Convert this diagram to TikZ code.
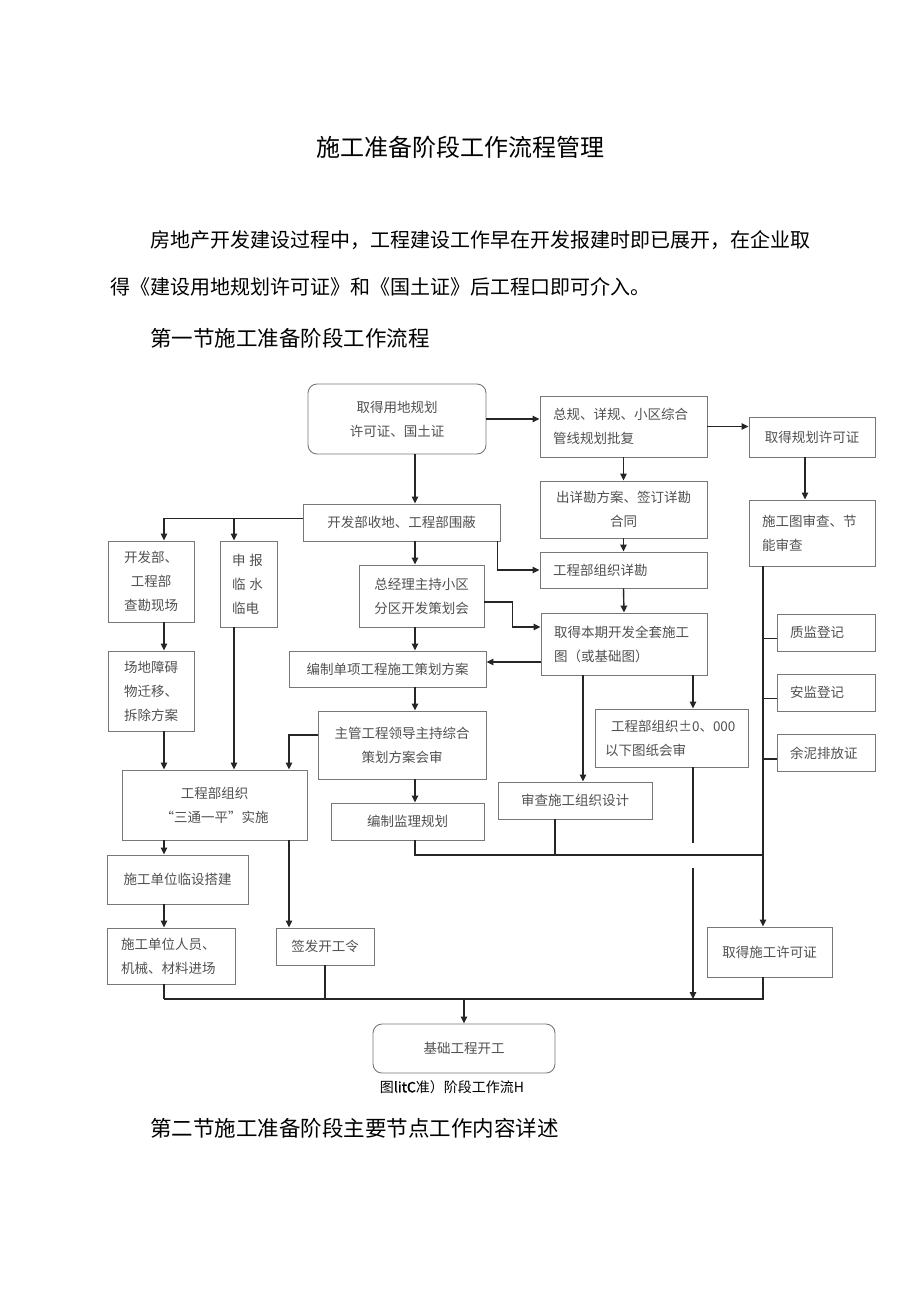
\documentclass[tikz,border=0pt]{standalone}
\usepackage{fontspec}
\setmainfont{Noto Sans CJK SC}[AutoFakeBold=1.5]
\usetikzlibrary{arrows.meta,positioning}
\definecolor{LineGray}{HTML}{777777}
\definecolor{TextGray}{HTML}{505050}

\begin{document}
\begin{tikzpicture}[x=1pt,y=-1pt,
    box/.style={draw=LineGray,line width=0.9pt,text=TextGray,inner sep=0pt,align=center,
      font=\fontsize{13.5}{24}\selectfont},
    rbox/.style={box,rounded corners=9pt},
    ln/.style={draw=black!85,line width=1.4pt},
    arr/.style={ln,-{Triangle[length=7pt,width=6.5pt]}},
    plain/.style={inner sep=0pt,text=black}]
  \useasboundingbox (0,0) rectangle (920,1301);

  % page text
  \node[plain,font=\fontsize{24}{24}\selectfont] (title) at (460,147) {施工准备阶段工作流程管理};
  \node[plain,anchor=west,font=\fontsize{20}{20}\selectfont] (para1) at (150,240)
    {房地产开发建设过程中，工程建设工作早在开发报建时即已展开，在企业取};
  \node[plain,anchor=west,font=\fontsize{20}{20}\selectfont] (para2) at (110,287)
    {得《建设用地规划许可证》和《国土证》后工程口即可介入。};
  \node[plain,anchor=west,font=\fontsize{21.5}{22}\selectfont] (sec1) at (150,338) {第一节施工准备阶段工作流程};
  \node[plain,font=\fontsize{14}{14}\selectfont] (cap) at (452,1087) {图\textbf{litC}准）阶段工作流H};
  \node[plain,anchor=west,font=\fontsize{21.5}{22}\selectfont] (sec2) at (150,1128) {第二节施工准备阶段主要节点工作内容详述};

  % columns and buses
  \coordinate (spine) at (415,0);
  \coordinate (colL) at (164,0);
  \coordinate (colD) at (234,0);
  \coordinate (colN) at (289,0);
  \coordinate (colY) at (555,0);
  \coordinate (colJY) at (583,0);
  \coordinate (colX) at (693,0);
  \coordinate (colU) at (763,0);
  \coordinate (busA) at (0,855);
  \coordinate (busB) at (0,999);

  % boxes
  \node[rbox,minimum width=178,minimum height=70] (A) at (397,419) {取得用地规划\\许可证、国土证};
  \node[box,minimum width=167,minimum height=61,text width=141,align=left] (F) at (623.5,426.5)
    {总规、详规、小区综合\\管线规划批复};
  \node[box,minimum width=126,minimum height=40] (G) at (812,437) {取得规划许可证};
  \node[box,minimum width=197,minimum height=37] (B) at (401.5,522.5) {开发部收地、工程部围蔽};
  \node[box,minimum width=86,minimum height=81] (C) at (151,581.5) {开发部、\\工程部\\查勘现场};
  \node[box,minimum width=57,minimum height=86,text width=34,align=left] (D) at (249,584)
    {申\hspace{4pt}报\\临\hspace{4pt}水\\临电};
  \node[box,minimum width=167,minimum height=57] (H) at (623.5,509.5) {出详勘方案、签订详勘\\合同};
  \node[box,minimum width=126,minimum height=66,text width=100,align=left] (U) at (812,533)
    {施工图审查、节\\能审查};
  \node[box,minimum width=125,minimum height=62] (E) at (421.5,596) {总经理主持小区\\分区开发策划会};
  \node[box,minimum width=167,minimum height=36,text width=141,align=left] (I) at (623.5,570) {工程部组织详勘};
  \node[box,minimum width=166,minimum height=62,text width=140,align=left] (J) at (624,644)
    {取得本期开发全套施工\\图（或基础图）};
  \node[box,minimum width=197,minimum height=36] (K) at (387.5,669) {编制单项工程施工策划方案};
  \node[box,minimum width=86,minimum height=80] (P) at (151,691) {场地障碍\\物迁移、\\拆除方案};
  \node[box,minimum width=153,minimum height=58,text width=133,align=left] (X) at (671.5,738)
    {\hspace{6pt}工程部组织±0、000\\以下图纸会审};
  \node[box,minimum width=168,minimum height=68] (L) at (402,745) {主管工程领导主持综合\\策划方案会审};
  \node[box,minimum width=185,minimum height=70] (N) at (214.5,805) {工程部组织\\“三通一平”实施};
  \node[box,minimum width=154,minimum height=37] (Y) at (575,800.5) {审查施工组织设计};
  \node[box,minimum width=153,minimum height=37] (M) at (407.5,821.5) {编制监理规划};
  \node[box,minimum width=141,minimum height=49] (Q) at (177.5,879.5) {施工单位临设搭建};
  \node[box,minimum width=128,minimum height=56,text width=100,align=left] (R) at (171,956)
    {施工单位人员、\\机械、材料进场};
  \node[box,minimum width=98,minimum height=37] (S) at (325,946.5) {签发开工令};
  \node[box,minimum width=125,minimum height=50] (V) at (769.5,952) {取得施工许可证};
  \node[rbox,minimum width=182,minimum height=49] (T) at (464,1048.5) {基础工程开工};

  % registrations hanging off the right line
  \foreach \n/\y/\txt in {W1/632.5/质监登记,W2/692.5/安监登记,W3/753/余泥排放证}{
    \node[box,minimum width=98,minimum height=37,text width=72,align=left] (\n) at (826,\y) {\txt};
    \draw[ln] ([yshift=-6]\n.west) -- ([yshift=-6]\n.west -| colU);
  }

  % helper points
  \coordinate (bL) at ([yshift=4]B.west);
  \coordinate (kE) at ([yshift=7]K.east);
  \coordinate (gapT) at (693,843);
  \coordinate (gapB) at (693,868);

  % connectors
  \draw[arr] (A.south -| spine) -- (B.north -| spine);
  \draw[arr] (A.east) -- (A.east -| F.west);
  \draw[arr] (F.east) -- (F.east -| G.west);
  \draw[arr] ([xshift=-7]G.south) -- ([xshift=-7]U.north);
  \draw[arr] (F.south) -- (H.north);
  \draw[arr] (H.south) -- (I.north);
  \draw[arr] (I.south) -- (J.north);
  \draw[arr] (bL) -| (C.north -| colL);
  \draw[arr] (bL -| colD) -- (D.north -| colD);
  \draw[arr] (B.south -| spine) -- (E.north -| spine);
  \draw[arr] ([xshift=-3]B.south east) |- (I.west);
  \draw[arr] ([yshift=-6]E.east) -- ++(28,0) |- ([yshift=17]J.west);
  \draw[arr] (E.south -| spine) -- (K.north -| spine);
  \draw[arr] (J.west |- kE) -- (kE);
  \draw[arr] (K.south -| spine) -- (L.north -| spine);
  \draw[arr] (L.south -| spine) -- (M.north -| spine);
  \draw[arr] ([yshift=10]L.west) -| (N.north -| colN);
  \draw[arr] (C.south -| colL) -- (P.north -| colL);
  \draw[arr] (P.south -| colL) -- (N.north -| colL);
  \draw[arr] (D.south -| colD) -- (N.north -| colD);
  \draw[arr] (N.south -| colL) -- (Q.north -| colL);
  \draw[arr] (Q.south -| colL) -- (R.north -| colL);
  \draw[arr] (N.south -| colN) -- (S.north -| colN);
  \draw[arr] (J.south -| colJY) -- (Y.north -| colJY);
  \draw[arr] (J.south -| colX) -- (X.north -| colX);
  \draw[ln] (M.south -| spine) |- (busA -| colU);
  \draw[ln] (Y.south -| colY) -- (busA -| colY);
  \draw[ln] (X.south -| colX) -- (gapT);
  \draw[arr] (gapB) -- (busB -| colX);
  \draw[arr] (U.south -| colU) -- (V.north -| colU);
  \draw[ln] (V.south -| colU) |- (busB -| colL);
  \draw[ln] (R.south -| colL) -- (busB -| colL);
  \draw[ln] (S.south) -- (S.south |- busB);
  \draw[arr] (busB -| T.north) -- (T.north);
\end{tikzpicture}
\end{document}
